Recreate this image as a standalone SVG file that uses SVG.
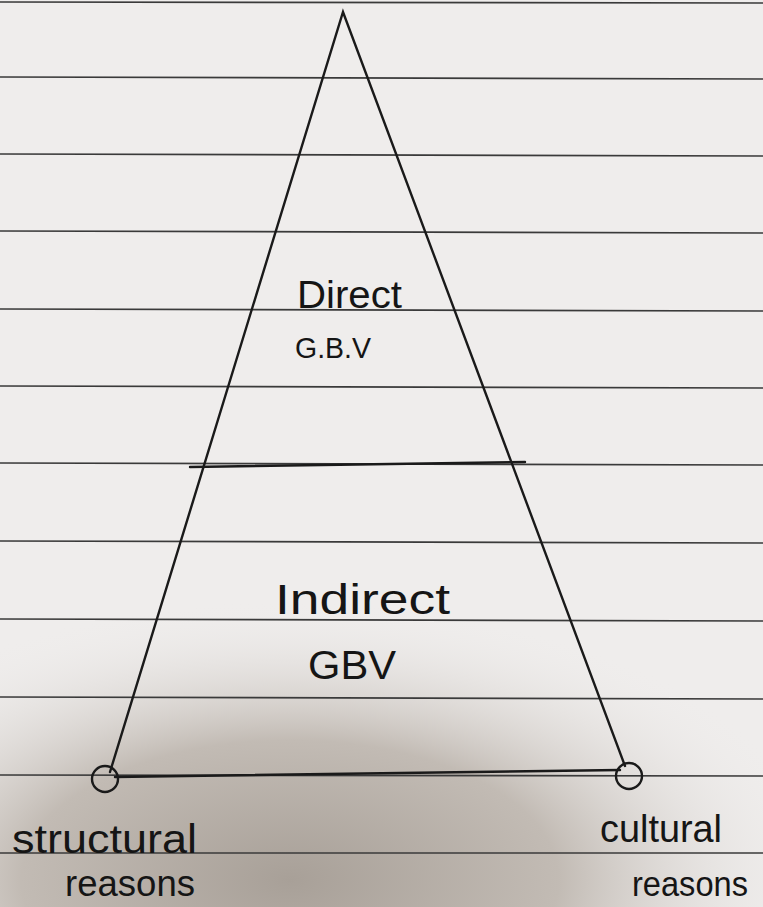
<svg xmlns="http://www.w3.org/2000/svg" width="763" height="907" viewBox="0 0 763 907">
<defs>
<radialGradient id="shade" cx="290" cy="880" r="430" gradientUnits="userSpaceOnUse" gradientTransform="translate(290 880) scale(1.25 0.65) translate(-290 -880)">
<stop offset="0" stop-color="#a8a098"/>
<stop offset="0.5" stop-color="#c2bbb4"/>
<stop offset="1" stop-color="#efedec" stop-opacity="0"/>
</radialGradient>
<style>
.rule{stroke:#3a3a3a;stroke-width:1.6;fill:none}
.ink{stroke:#1a1a1a;stroke-width:2.4;fill:none;stroke-linecap:round}
.lbl{font-family:"Liberation Sans","DejaVu Sans",sans-serif;fill:#151515}
</style>
</defs>
<rect width="763" height="907" fill="#efedec"/>
<rect width="763" height="907" fill="url(#shade)"/>
<g id="paper-lines">
<line class="rule" x1="0" y1="2" x2="763" y2="3"/>
<line class="rule" x1="0" y1="77" x2="763" y2="79"/>
<line class="rule" x1="0" y1="154" x2="763" y2="156"/>
<line class="rule" x1="0" y1="231" x2="763" y2="233"/>
<line class="rule" x1="0" y1="309" x2="763" y2="311"/>
<line class="rule" x1="0" y1="386" x2="763" y2="388"/>
<line class="rule" x1="0" y1="463" x2="763" y2="465"/>
<line class="rule" x1="0" y1="541" x2="763" y2="543"/>
<line class="rule" x1="0" y1="619" x2="763" y2="621"/>
<line class="rule" x1="0" y1="697" x2="763" y2="699"/>
<line class="rule" x1="0" y1="775" x2="763" y2="776"/>
<line class="rule" x1="0" y1="853" x2="763" y2="853"/>
</g>
<g id="connectors">
<path class="ink" d="M110 772 L343 12 L625 766"/>
<path class="ink" d="M190 467 L525 462"/>
<path class="ink" d="M115 777 L620 770"/>
</g>
<g id="node-structural">
<circle class="ink" cx="105" cy="779" r="13"/>
<text class="lbl" x="12" y="853" font-size="40" textLength="185" lengthAdjust="spacingAndGlyphs">structural</text>
<text class="lbl" x="65" y="896" font-size="36" textLength="130" lengthAdjust="spacingAndGlyphs">reasons</text>
</g>
<g id="node-cultural">
<circle class="ink" cx="629" cy="776" r="13"/>
<text class="lbl" x="600" y="842" font-size="38" textLength="122" lengthAdjust="spacingAndGlyphs">cultural</text>
<text class="lbl" x="632" y="896" font-size="35" textLength="116" lengthAdjust="spacingAndGlyphs">reasons</text>
</g>
<g id="node-direct">
<text class="lbl" x="297" y="308" font-size="38" textLength="105" lengthAdjust="spacingAndGlyphs">Direct</text>
<text class="lbl" x="295" y="358" font-size="30" textLength="76" lengthAdjust="spacingAndGlyphs">G.B.V</text>
</g>
<g id="node-indirect">
<text class="lbl" x="275" y="614" font-size="42" textLength="175" lengthAdjust="spacingAndGlyphs">Indirect</text>
<text class="lbl" x="308" y="679" font-size="40" textLength="88" lengthAdjust="spacingAndGlyphs">GBV</text>
</g>
</svg>
